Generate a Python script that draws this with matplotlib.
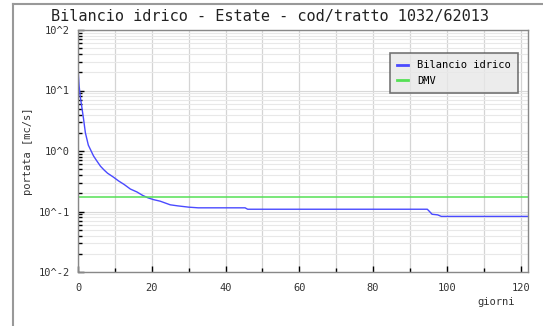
"""Curva del bilancio idrico estivo confrontata con il DMV."""

import matplotlib

matplotlib.use("Agg")
import matplotlib.pyplot as plt
from matplotlib.lines import Line2D
from matplotlib.ticker import FixedLocator, LogLocator, NullFormatter, MultipleLocator

# giorni / portata [mc/s] del bilancio idrico (punti della curva)
giorni = [0, 0.3, 0.6, 1, 1.5, 2, 2.8, 3.4, 4.2, 5, 6.1, 7, 8, 9.6, 11, 12.5,
          14.2, 16, 17.5, 19, 20.5, 22.3, 25, 27, 30, 32.6, 45.3, 46, 94.7,
          95.3, 96, 97.5, 98.5, 122]
bilancio = [23, 12, 8, 5.5, 3.4, 2.0, 1.25, 1.05, 0.83, 0.7, 0.56, 0.49, 0.43,
            0.37, 0.32, 0.28, 0.235, 0.21, 0.185, 0.168, 0.157, 0.148, 0.129,
            0.124, 0.118, 0.115, 0.115, 0.109, 0.109, 0.1, 0.09, 0.088, 0.083,
            0.083]
dmv = 0.175

x_ticks = [0, 20, 40, 60, 80, 100, 120]
y_ticks = [1e-2, 1e-1, 1e0, 1e1, 1e2]
y_tick_labels = ["10^-2", "10^-1", "10^0", "10^1", "10^2"]
titolo = "Bilancio idrico - Estate - cod/tratto 1032/62013"

MONO = "DejaVu Sans Mono"

fig = plt.figure(figsize=(5.43, 3.26), dpi=100)
ax = fig.add_axes([78 / 543, 1 - 272 / 326, 450 / 543, 242 / 326])

ax.plot(giorni, bilancio, color="#4a4aff", lw=1.0, label="Bilancio idrico")
ax.axhline(dmv, color="#55e055", lw=1.1, label="DMV")

ax.set_yscale("log")
ax.set_xlim(0, 122)
ax.set_ylim(1e-2, 1e2)

ax.xaxis.set_major_locator(FixedLocator(x_ticks))
ax.xaxis.set_minor_locator(MultipleLocator(10))
ax.set_xticks(x_ticks, labels=[str(t) for t in x_ticks])
ax.set_yticks(y_ticks, labels=y_tick_labels)
ax.yaxis.set_minor_locator(LogLocator(base=10, subs=range(2, 10)))
ax.yaxis.set_minor_formatter(NullFormatter())

# griglia: verticali piu' marcate, orizzontali minori molto chiare
ax.grid(True, which="both", axis="x", color="#d4d4d4", lw=0.9)
ax.grid(True, which="major", axis="y", color="#d8d8d8", lw=0.8)
ax.grid(True, which="minor", axis="y", color="#e8e8e8", lw=0.8)
ax.set_axisbelow(True)
ax.tick_params(which="both", direction="in", color="black", labelsize=7.5,
               labelcolor="#333333")
ax.tick_params(which="major", length=4, width=1)
ax.tick_params(which="minor", length=3, width=1)
ax.tick_params(axis="x", pad=8)
ax.tick_params(axis="y", pad=6)
for lab in ax.get_xticklabels() + ax.get_yticklabels():
    lab.set_family(MONO)
for spine in ax.spines.values():
    spine.set_color("#888888")
    spine.set_linewidth(1)

ax.set_ylabel("portata [mc/s]", family=MONO, fontsize=7.5, color="#333333",
              labelpad=4)
fig.text(496 / 543, 1 - 302 / 326, "giorni", family=MONO, fontsize=7.5,
         color="#333333", ha="center", va="center")
fig.text(270 / 543, 1 - 16 / 326, titolo, family=MONO, fontsize=11,
         color="#222222", ha="center", va="center")

leg = ax.legend(loc="upper right", bbox_to_anchor=(0.978, 0.905),
                prop={"family": MONO, "size": 7.5}, frameon=True,
                fancybox=False, shadow=False, handlelength=1.0,
                handletextpad=0.9, borderpad=0.7, labelspacing=0.55,
                borderaxespad=0)
leg.get_frame().set_facecolor("#e8e8e8")
leg.get_frame().set_edgecolor("#555555")
leg.get_frame().set_linewidth(1.2)
for line in leg.get_lines():
    line.set_linewidth(2)

# cornice esterna (solo lati sinistro e superiore)
fig.add_artist(Line2D([13 / 543, 13 / 543], [0, 1 - 4 / 326],
                      transform=fig.transFigure, color="#999999", lw=1.5))
fig.add_artist(Line2D([13 / 543, 1], [1 - 4 / 326, 1 - 4 / 326],
                      transform=fig.transFigure, color="#999999", lw=1.5))

fig.savefig("out.png", dpi=100)
